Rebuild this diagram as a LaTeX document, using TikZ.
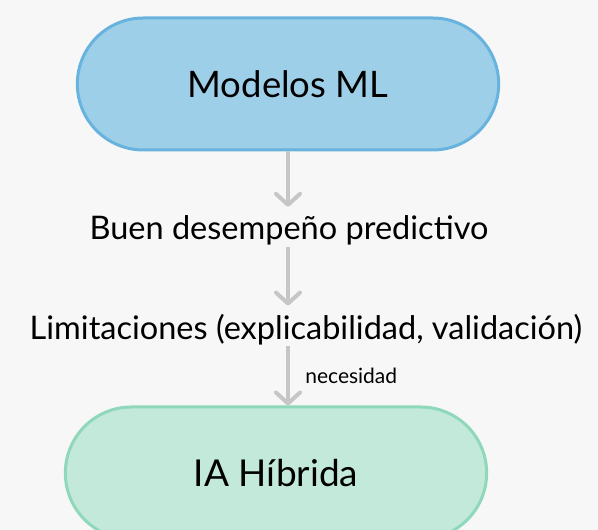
\documentclass[tikz,border=0pt]{standalone}
\usepackage{fontspec}
\setmainfont{Lato}
\usetikzlibrary{shapes.misc,positioning,arrows.meta}
\definecolor{bgcol}{HTML}{F7F7F7}
\definecolor{mlfill}{HTML}{9ECFE8}
\definecolor{mldraw}{HTML}{68B3DD}
\definecolor{iafill}{HTML}{C3E9DA}
\definecolor{iadraw}{HTML}{8FD8BC}
\definecolor{flowgray}{HTML}{C6C6C6}

\begin{document}
\begin{tikzpicture}[x=1pt, y=1pt,
    pill/.style={rounded rectangle, line width=3pt, minimum width=428pt, minimum height=132pt, font=\fontsize{36.5}{44}\selectfont},
    stage/.style={inner sep=0pt, font=\fontsize{32.5}{39}\selectfont},
    flow/.style={draw=flowgray, line width=4pt, -{Straight Barb[length=11pt, width=24pt, round]}}]
    \path[use as bounding box, fill=bgcol] (0,0) rectangle (598,530);
    \clip (0,0) rectangle (598,530);

    \node[pill, fill=mlfill, draw=mldraw] (ml) at (288,446) {Modelos ML};
    \node[stage, anchor=base] (buen) at (289,290) {Buen desempeño predictivo};
    \node[stage, anchor=base] (limit) at (306,190) {Limitaciones (explicabilidad, validación)};
    \node[pill, fill=iafill, draw=iadraw, font=\fontsize{37}{44}\selectfont] (ia) at (276,57) {IA Híbrida};

    \draw[flow, shorten >=9pt] (ml.south) -- (ml.south |- buen.north);
    \draw[flow, shorten <=1pt, shorten >=9pt] (ml.south |- buen.south) -- (ml.south |- limit.north);
    \draw[flow] (ml.south |- limit.south) -- node[right=12pt, font=\fontsize{21}{25}\selectfont] {necesidad} (ml.south |- ia.north);
\end{tikzpicture}
\end{document}
